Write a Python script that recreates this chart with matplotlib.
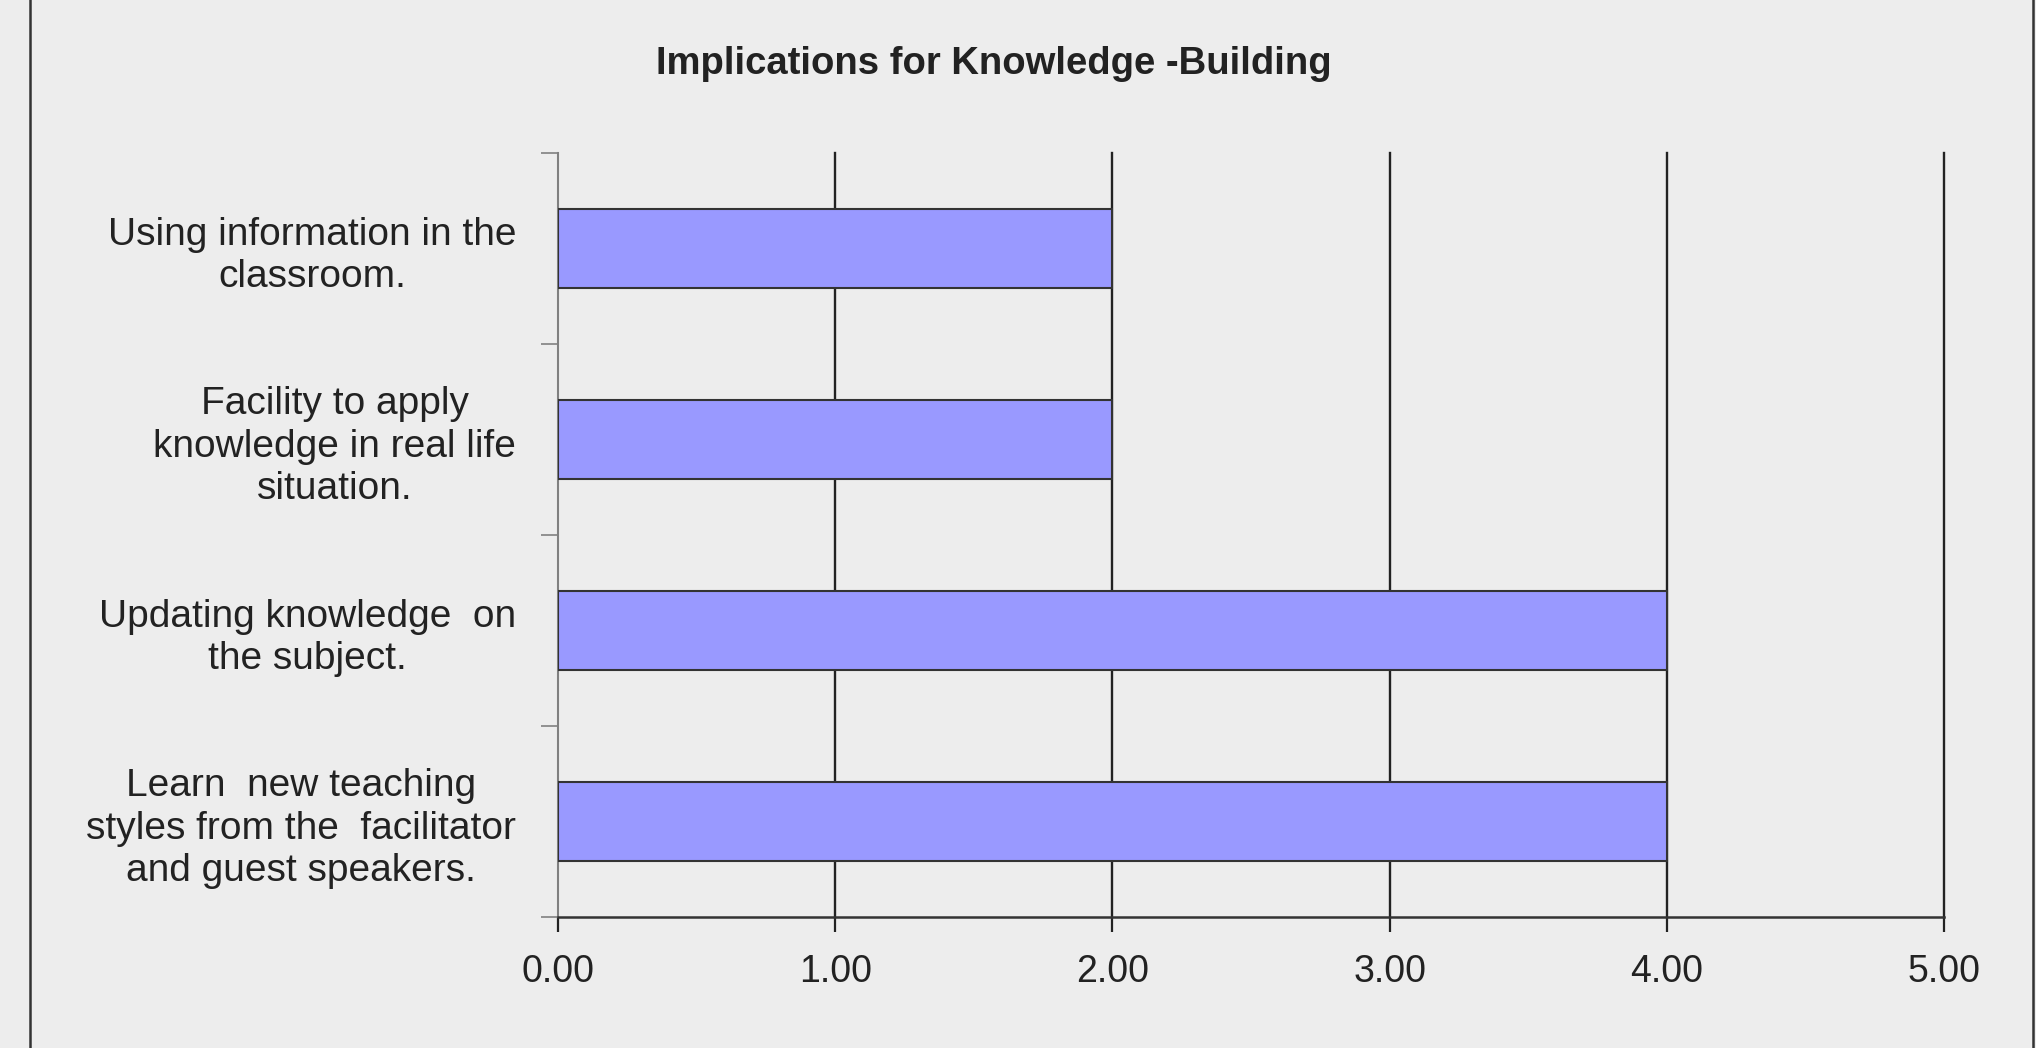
import matplotlib.pyplot as plt
from matplotlib.lines import Line2D

categories = ['Learn  new teaching\nstyles from the  facilitator\nand guest speakers.',
              'Updating knowledge  on\nthe subject.',
              'Facility to apply\nknowledge in real life\nsituation.',
              'Using information in the\nclassroom.']
values = [4, 4, 2, 2]
xticks = [0, 1, 2, 3, 4, 5]
xticklabels = ['0.00', '1.00', '2.00', '3.00', '4.00', '5.00']

bg = '#ededed'
plt.rcParams['font.family'] = ['Liberation Sans Narrow', 'Liberation Sans', 'DejaVu Sans']

fig = plt.figure(figsize=(20.36, 10.48), dpi=100, facecolor=bg)
ax = fig.add_axes([0.274, 0.125, 0.681, 0.729], facecolor=bg)

pos = list(range(len(categories)))
ax.barh(pos, values, height=0.41, color='#9999ff', edgecolor='#333333', linewidth=1.5, zorder=3)

ax.set_xlim(0, 5)
ax.set_ylim(-0.5, 3.5)
ax.set_xticks(xticks)
ax.set_xticklabels(xticklabels, fontsize=27, color='#222222')
ax.set_yticks(pos)
ax.set_yticklabels(categories, fontsize=28, color='#222222', multialignment='center',
                   linespacing=1.22)
ax.set_yticks([-0.5, 0.5, 1.5, 2.5, 3.5], minor=True)
ax.tick_params(axis='y', which='major', length=0, pad=30)
ax.tick_params(axis='y', which='minor', length=12, width=1.2, color='#808080')
ax.tick_params(axis='x', length=11, width=1.6, color='#222222', pad=16)

for x in xticks[1:]:
    ax.axvline(x, color='#222222', linewidth=1.7, zorder=2, clip_on=False)

ax.spines['top'].set_visible(False)
ax.spines['right'].set_visible(False)
ax.spines['left'].set_color('#808080')
ax.spines['left'].set_linewidth(1.5)
ax.spines['bottom'].set_color('#333333')
ax.spines['bottom'].set_linewidth(1.8)

fig.text(0.488, 0.939, 'Implications for Knowledge -Building', fontsize=27.5,
         fontweight='bold', ha='center', va='center', color='#222222')

# frame edges of the original chart box
fig.add_artist(Line2D([0.0147, 0.0147], [0, 1], transform=fig.transFigure, color='#333333', linewidth=1.8))
fig.add_artist(Line2D([0.9985, 0.9985], [0, 1], transform=fig.transFigure, color='#333333', linewidth=1.8))

fig.savefig('out.png', dpi=100, facecolor=bg)
